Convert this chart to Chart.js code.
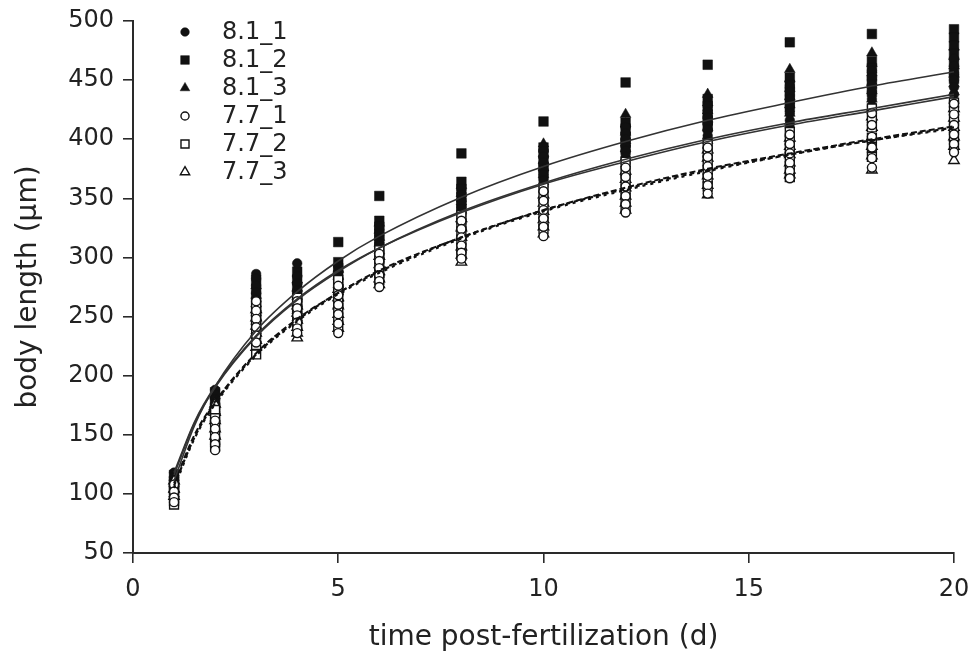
<!DOCTYPE html>
<html>
<head>
<meta charset="utf-8">
<script src="https://cdn.jsdelivr.net/npm/chart.js@4.4.1/dist/chart.umd.min.js"></script>
<style>
  html, body { margin: 0; padding: 0; background: #ffffff; }
  #wrap { width: 972px; height: 657px; position: relative; }
</style>
</head>
<body>
<div id="wrap"><canvas id="c" width="972" height="657"></canvas></div>
<script>
// ---- data ----
const days = [1, 2, 3, 4, 5, 6, 8, 10, 12, 14, 16, 18, 20];
const seriesNames = ['8.1_1', '8.1_2', '8.1_3', '7.7_1', '7.7_2', '7.7_3'];

// body length (µm) measurements per day, one inner list per day
const s81_1 = [
  [118, 114, 110, 106, 101, 98], [188, 184, 180, 176, 172, 168],
  [286, 282, 276, 270, 264, 258, 252, 246], [295, 284, 278, 272, 266, 260, 254],
  [292, 288, 282, 276, 270, 264, 259], [325, 320, 315, 310, 305, 300],
  [358, 353, 347, 341, 335, 329, 323], [390, 385, 380, 375, 370, 365, 360],
  [410, 405, 400, 395, 390, 385, 380], [428, 423, 418, 413, 408, 403, 398],
  [445, 440, 434, 428, 422, 416, 410], [458, 452, 446, 440, 434, 428, 424],
  [468, 462, 456, 450, 444, 438, 432]
];
const s81_2 = [
  [116, 111, 107, 103], [186, 179, 173, 166],
  [281, 273, 266, 259, 251, 244], [288, 281, 275, 268, 262, 256],
  [313, 296, 291, 285, 279, 273], [352, 331, 326, 320, 315, 309],
  [388, 364, 358, 351, 346, 340], [415, 393, 388, 381, 376, 370],
  [448, 414, 409, 402, 397, 391], [463, 434, 428, 421, 416, 410],
  [482, 452, 446, 440, 434, 427], [489, 466, 460, 453, 447, 440],
  [493, 486, 479, 472, 465, 458, 451]
];
const s81_3 = [
  [114, 109, 104, 100], [183, 176, 170, 164],
  [276, 268, 261, 253, 246, 238, 231], [281, 274, 267, 261, 255, 249],
  [290, 284, 277, 271, 265, 260], [329, 323, 317, 312, 306, 301],
  [361, 354, 347, 340, 333, 326, 319], [396, 388, 382, 376, 370, 364],
  [421, 413, 406, 399, 392, 385], [438, 431, 424, 417, 410, 403, 399],
  [459, 451, 443, 436, 429, 422, 415], [473, 464, 456, 448, 441, 434, 427],
  [478, 470, 462, 455, 447, 440, 433]
];
const s77_1 = [
  [108, 102, 97, 93], [162, 155, 148, 142, 137],
  [263, 255, 248, 241, 234, 228], [263, 257, 251, 245, 240, 236],
  [276, 268, 260, 252, 244, 236], [303, 297, 291, 285, 280, 275],
  [331, 324, 317, 310, 304, 299], [356, 348, 340, 333, 326, 318],
  [376, 368, 360, 352, 345, 338], [393, 385, 377, 369, 361, 354],
  [404, 396, 388, 380, 373, 367], [422, 412, 402, 393, 384, 376],
  [430, 421, 412, 404, 396, 389]
];
const s77_2 = [
  [105, 99, 94, 91], [171, 164, 157, 150, 144, 140],
  [259, 251, 243, 235, 226, 218], [266, 260, 254, 248, 242],
  [281, 273, 265, 257, 249, 242], [306, 299, 293, 287, 281],
  [336, 329, 322, 315, 308, 302], [359, 352, 345, 337, 330, 324],
  [381, 373, 366, 358, 350, 342], [396, 389, 382, 374, 367, 360],
  [406, 399, 392, 385, 377, 368], [426, 418, 410, 401, 393, 385],
  [431, 424, 417, 409, 402, 395]
];
const s77_3 = [
  [111, 104, 98], [176, 169, 162, 155, 149],
  [256, 249, 242, 236, 230, 224], [259, 253, 247, 241, 236, 232],
  [273, 266, 259, 252, 246, 240], [301, 294, 288, 282, 277],
  [333, 325, 317, 309, 302, 296], [353, 346, 339, 332, 326, 320],
  [373, 366, 359, 352, 346, 340], [391, 384, 376, 369, 361, 353],
  [401, 394, 387, 380, 374, 370], [419, 410, 402, 394, 386, 374],
  [426, 418, 410, 402, 394, 382]
];

// fitted growth curves at these days
const fitDays = [1, 1.5, 2, 3, 4, 5, 6, 8, 10, 12, 14, 16, 18, 20];
const fit81_1 = [118, 161, 191, 234, 265, 289, 308, 338, 362, 381, 398, 412, 424, 436];
const fit81_2 = [111, 158, 191, 238, 271, 297, 318, 351, 377, 398, 416, 431, 445, 457];
const fit81_3 = [116, 160, 190, 233, 264, 288, 308, 339, 363, 383, 400, 414, 426, 438];
const fit77_1 = [107, 148, 177, 218, 247, 270, 288, 317, 340, 358, 374, 387, 399, 410];
const fit77_2 = [105, 147, 176, 217, 246, 269, 287, 316, 339, 357, 373, 387, 399, 409];
const fit77_3 = [109, 150, 178, 219, 248, 270, 289, 317, 340, 359, 375, 388, 400, 411];

const xTicks = [0, 5, 10, 15, 20];
const yTicks = [50, 100, 150, 200, 250, 300, 350, 400, 450, 500];

// ---- build datasets ----
const INK = '#111111';
const FONT = "'DejaVu Sans', 'Liberation Sans', Arial, sans-serif";

function toPoints(list) {
  const out = [];
  days.forEach((d, i) => list[i].forEach(v => out.push({ x: d, y: v })));
  return out;
}
function toCurve(vals) {
  return fitDays.map((d, i) => ({ x: d, y: vals[i] }));
}

const markerDefs = [
  { style: 'circle',   radius: 4.8, filled: true },
  { style: 'rect',     radius: 6.8, filled: true },
  { style: 'triangle', radius: 6.2, filled: true },
  { style: 'circle',   radius: 4.5, filled: false },
  { style: 'rect',     radius: 6.3, filled: false },
  { style: 'triangle', radius: 6.0, filled: false }
];
const pointSets = [s81_1, s81_2, s81_3, s77_1, s77_2, s77_3];

const datasets = pointSets.map((set, i) => ({
  label: seriesNames[i],
  data: toPoints(set),
  pointStyle: markerDefs[i].style,
  pointRadius: markerDefs[i].radius,
  pointBackgroundColor: markerDefs[i].filled ? INK : '#ffffff',
  pointBorderColor: INK,
  pointBorderWidth: markerDefs[i].filled ? 0.5 : 1.4,
  showLine: false,
  clip: false,
  order: markerDefs[i].filled ? 3 : 2
}));

const curveDefs = [
  { vals: fit81_1, dash: [], color: '#333333', width: 1.6 },
  { vals: fit81_2, dash: [], color: '#333333', width: 1.6 },
  { vals: fit81_3, dash: [], color: '#333333', width: 1.6 },
  { vals: fit77_1, dash: [4, 4], color: INK, width: 2.2 },
  { vals: fit77_2, dash: [3, 5], color: INK, width: 2.2 },
  { vals: fit77_3, dash: [6, 3], color: INK, width: 2.0 }
];
curveDefs.forEach((c, i) => datasets.push({
  label: 'fit ' + seriesNames[i],
  data: toCurve(c.vals),
  showLine: true,
  pointRadius: 0,
  pointHoverRadius: 0,
  borderColor: c.color,
  borderWidth: c.width,
  borderDash: c.dash,
  cubicInterpolationMode: 'monotone',
  fill: false,
  clip: false,
  order: 1
}));

// ---- legend drawn inside the plot, top-left ----
const legendPlugin = {
  id: 'insideLegend',
  afterDraw(chart) {
    const ctx = chart.ctx;
    ctx.save();
    const mx = 185, tx = 222, y0 = 32, dy = 28;
    ctx.font = '24px ' + FONT;
    ctx.textBaseline = 'middle';
    ctx.textAlign = 'left';
    seriesNames.forEach((name, i) => {
      const y = y0 + i * dy;
      const m = markerDefs[i];
      ctx.fillStyle = m.filled ? INK : '#ffffff';
      ctx.strokeStyle = INK;
      ctx.lineWidth = m.filled ? 0.5 : 1.4;
      const r = m.radius * 0.9;
      if (Chart.helpers && Chart.helpers.drawPoint) {
        Chart.helpers.drawPoint(ctx, { pointStyle: m.style, radius: r, rotation: 0, borderWidth: ctx.lineWidth }, mx, y);
      } else {
        ctx.beginPath();
        ctx.arc(mx, y, r, 0, Math.PI * 2);
        ctx.fill(); ctx.stroke();
      }
      ctx.fillStyle = '#222222';
      ctx.fillText(name, tx, y + 1);
    });
    ctx.restore();
  }
};

new Chart(document.getElementById('c'), {
  type: 'scatter',
  data: { datasets },
  options: {
    responsive: false,
    animation: false,
    events: [],
    layout: { padding: { top: 21, right: 18, bottom: 0, left: 0 } },
    plugins: {
      legend: { display: false },
      tooltip: { enabled: false }
    },
    scales: {
      x: {
        type: 'linear',
        min: 0, max: 20,
        afterBuildTicks: s => { s.ticks = xTicks.map(v => ({ value: v })); },
        afterFit: s => { s.height = 104; s.paddingLeft = 0; s.paddingRight = 0; },
        grid: { display: true, drawOnChartArea: false, drawTicks: true, tickLength: 10, tickColor: '#2a2a2a', lineWidth: 1.6 },
        border: { display: true, color: '#2a2a2a', width: 2 },
        ticks: { font: { family: FONT, size: 24 }, color: '#222222', padding: 12, maxRotation: 0 },
        title: { display: true, text: 'time post-fertilization (d)', font: { family: FONT, size: 28 }, color: '#222222', padding: { top: 2, bottom: 2 } }
      },
      y: {
        type: 'linear',
        min: 50, max: 500,
        afterBuildTicks: s => { s.ticks = yTicks.map(v => ({ value: v })); },
        afterFit: s => { s.width = 133; s.paddingTop = 0; s.paddingBottom = 0; },
        grid: { display: true, drawOnChartArea: false, drawTicks: true, tickLength: 10, tickColor: '#2a2a2a', lineWidth: 1.6 },
        border: { display: true, color: '#2a2a2a', width: 2 },
        ticks: { font: { family: FONT, size: 24 }, color: '#222222', padding: 9 },
        title: { display: true, text: 'body length (µm)', font: { family: FONT, size: 28 }, color: '#222222', padding: { top: 12, bottom: 12 } }
      }
    }
  },
  plugins: [legendPlugin]
});
</script>
</body>
</html>
